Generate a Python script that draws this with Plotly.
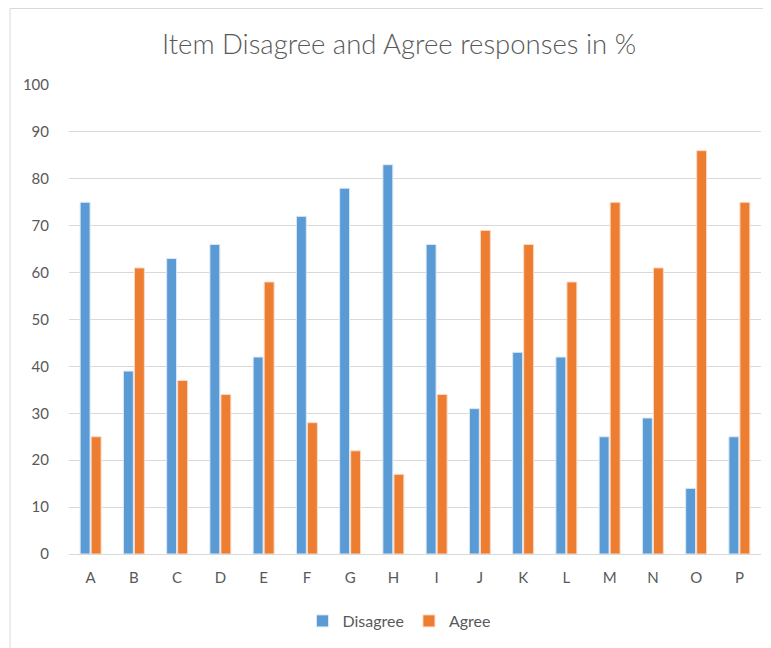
import plotly.graph_objects as go

items = list("ABCDEFGHIJKLMNOP")
disagree = [75, 39, 63, 66, 42, 72, 78, 83, 66, 31, 43, 42, 25, 29, 14, 25]
agree = [25, 61, 37, 34, 58, 28, 22, 17, 34, 69, 66, 58, 75, 61, 86, 75]

# page body has an 8px margin, so the figure is laid out in shifted coordinates
OFF = 8
W, H = 771 - OFF, 648 - OFF
L, R, T, B = 69 - OFF, 771 - 761, 85 - OFF, 648 - 554
pw, ph = W - L - R, H - T - B

def px(x):
    return (x - OFF - L) / pw

def py(y):
    return (H - B - (y - OFF)) / ph

fig = go.Figure()
fig.add_trace(go.Bar(x=items, y=disagree, name="Disagree",
                     marker=dict(color="#5B9BD5", line=dict(color="#DCE9F5", width=1))))
fig.add_trace(go.Bar(x=items, y=agree, name="Agree",
                     marker=dict(color="#ED7D31", line=dict(color="#FADBC6", width=1))))

font = "Lato, 'Open Sans', sans-serif"
fig.update_layout(
    width=W, height=H,
    margin=dict(l=L, r=R, t=T, b=B),
    paper_bgcolor="white", plot_bgcolor="white",
    barmode="group", bargap=0.49, bargroupgap=0.1,
    font=dict(family=font, color="#595959", size=15),
    title=dict(text="Item Disagree and Agree responses in %", x=(399 - OFF) / W, xanchor="center",
               y=1 - (44 - OFF) / H, yanchor="middle",
               font=dict(size=27.5, color="#595959", family=font, weight=300)),
    legend=dict(orientation="h", x=(399 - OFF) / W, xanchor="center", xref="container",
                y=1 - (621 - OFF) / H, yref="container", yanchor="middle",
                font=dict(size=16, color="#595959"), itemwidth=30, traceorder="normal"),
    xaxis=dict(showgrid=False, showline=True, linecolor="#D9D9D9", linewidth=1,
               ticks="", tickfont=dict(size=15, color="#595959"), ticklabelstandoff=10),
    yaxis=dict(range=[0, 100], dtick=10, showgrid=True, gridcolor="#D9D9D9", gridwidth=1,
               zeroline=False, showline=False, ticks="",
               tickfont=dict(size=15, color="#595959"), ticklabelstandoff=19),
    shapes=[
        dict(type="line", xref="paper", yref="paper", x0=px(10), x1=px(10), y0=py(8.5), y1=py(660),
             line=dict(color="#D9D9D9", width=1)),
        dict(type="line", xref="paper", yref="paper", x0=px(10), x1=px(790), y0=py(8.5), y1=py(8.5),
             line=dict(color="#D9D9D9", width=1)),
    ],
)
fig.write_html("out.html")
